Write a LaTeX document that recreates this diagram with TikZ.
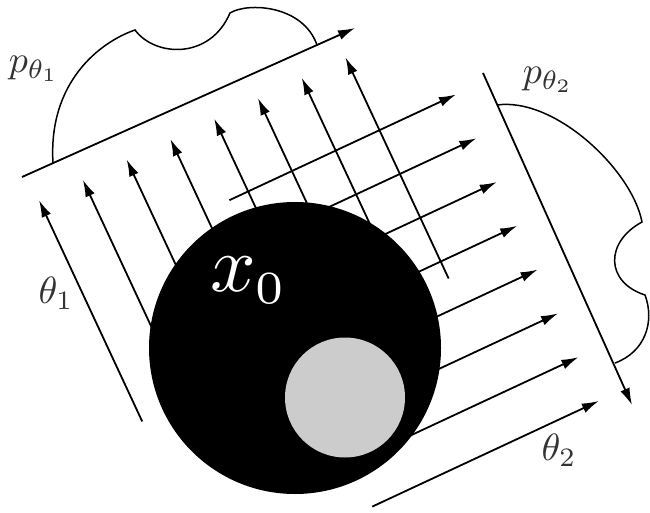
\documentclass[tikz,border=0pt]{standalone}
\usetikzlibrary{arrows.meta}
\definecolor{lightdisk}{gray}{0.8}
\tikzset{
  ray/.style={line width=1.8pt, -{Latex[length=17pt,width=10pt]}},
  detector/.style={line width=1.8pt, -{Latex[length=17pt,width=10pt]}},
  profile/.style={line width=1.5pt, line join=miter},
  lbl/.style={scale=3.8, text=black!80, inner sep=0pt}
}
\begin{document}
\begin{tikzpicture}[x=1pt,y=1pt]
\useasboundingbox (0,0) rectangle (650,512);
\fill[white] (0,0) rectangle (650,512);
% parallel rays, frame rotated by 25 degrees about the object centre
\begin{scope}[shift={(295,164)}, rotate=25]
  \foreach \i in {0,...,7} {
    \pgfmathsetmacro\U{-169.5+48.3*\i}
    \draw[ray] (\U,-2) -- (\U,242);
  }
  \foreach \j in {0,...,7} {
    \pgfmathsetmacro\V{161.7-48.3*\j}
    \draw[ray] (3,\V) -- (253,\V);
  }
\end{scope}
% detector lines
\coordinate (d1s) at (22,335);
\coordinate (d1e) at (355,484);
\draw[detector] (d1s) -- (d1e);
\coordinate (d2s) at (483,439);
\coordinate (d2e) at (632,107);
\draw[detector] (d2s) -- (d2e);
% projection profiles
\draw[profile] (53,349) .. controls (48,430) and (100,470) .. (135,482)
  .. controls (155,455) and (210,452) .. (230,499)
  .. controls (248,510) and (303,507) .. (317,467);
\draw[profile] (497,407) .. controls (555,415) and (632,342) .. (642,290)
  .. controls (605,270) and (605,230) .. (645,217)
  .. controls (655,190) and (645,160) .. (615,149);
% object
\fill[black] (295,164) circle (146pt);
\fill[lightdisk] (345,114.5) circle (60pt);
\node[text=white, scale=8, inner sep=0pt] (x0) at (249,231)
  {$x_{\mbox{\fontsize{5.75}{6}\selectfont 0}}$};
% labels
\node[lbl] (p1) at (34,443) {$p_{\theta_1}$};
\node[lbl] (p2) at (548,432) {$p_{\theta_2}$};
\node[lbl] (t1) at (56,219) {$\theta_1$};
\node[lbl] (t2) at (559,62) {$\theta_2$};
\end{tikzpicture}
\end{document}
